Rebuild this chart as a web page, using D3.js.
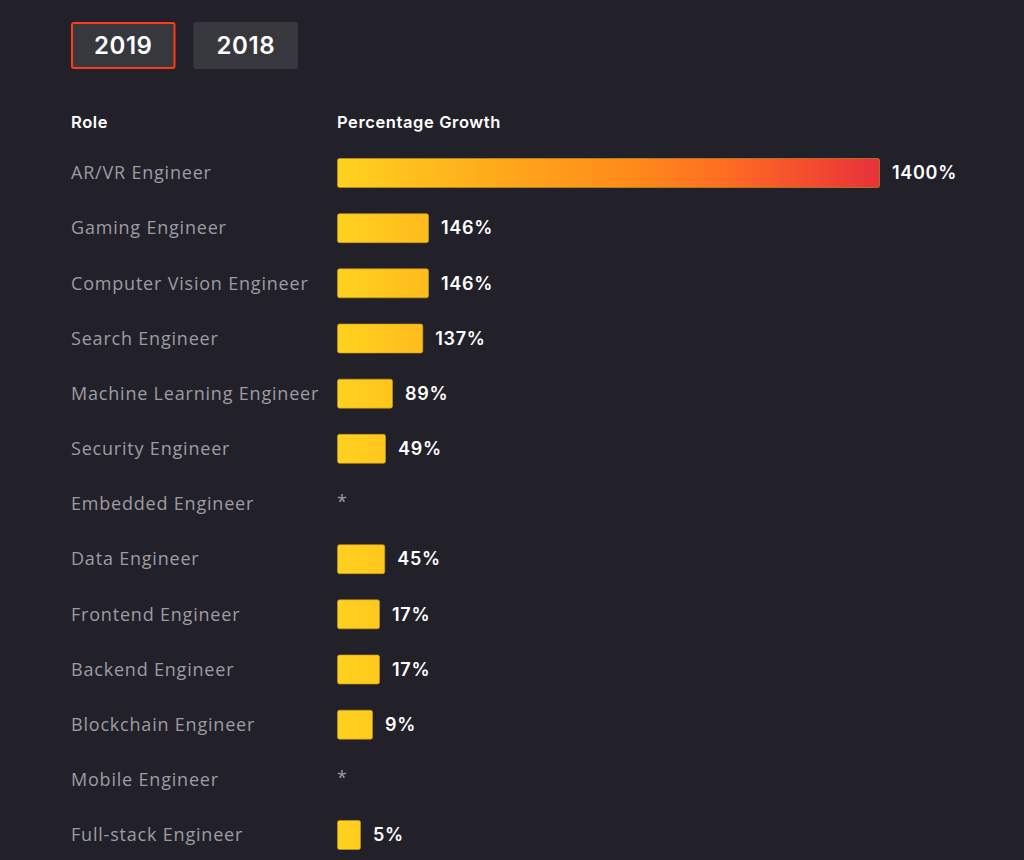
<!DOCTYPE html>
<html>
<head>
<meta charset="utf-8">
<script src="https://cdn.jsdelivr.net/npm/d3@7"></script>
<style>
  html, body { margin: 0; padding: 0; background: #222129; }
  svg { display: block; }
</style>
</head>
<body>
<svg id="chart" width="1024" height="860"></svg>
<script>
// chart data
const years = ["2019", "2018"];
const roles = ["AR/VR Engineer", "Gaming Engineer", "Computer Vision Engineer", "Search Engineer",
  "Machine Learning Engineer", "Security Engineer", "Embedded Engineer", "Data Engineer",
  "Frontend Engineer", "Backend Engineer", "Blockchain Engineer", "Mobile Engineer", "Full-stack Engineer"];
// null = no figure shown (asterisk)
const growth = [1400, 146, 146, 137, 89, 49, null, 45, 17, 17, 9, null, 5];

const svg = d3.select("#chart");
const width = +svg.attr("width");
const height = +svg.attr("height");
const margin = {left: 71, top: 122, barLeft: 337};
const boldFont = "Inter, Lato, sans-serif";
const textFont = "'Open Sans', 'Noto Sans', sans-serif";

svg.append("rect").attr("width", width).attr("height", height).attr("fill", "#222129");

/* Year buttons */
const btnX = d3.scaleBand().domain(years).range([71, 298]).paddingInner(0.147).paddingOuter(0);
const btn = svg.append("g").selectAll("g")
    .data(years)
    .enter().append("g")
    .attr("transform", d => "translate(" + btnX(d) + ",22)");
btn.append("rect")
    .attr("x", (d, i) => i === 0 ? 1 : 0)
    .attr("y", (d, i) => i === 0 ? 1 : 0)
    .attr("width", (d, i) => i === 0 ? btnX.bandwidth() - 2 : btnX.bandwidth())
    .attr("height", (d, i) => i === 0 ? 45 : 47)
    .attr("rx", 2)
    .attr("fill", "#37383d")
    .attr("stroke", (d, i) => i === 0 ? "#ff3a17" : "none")
    .attr("stroke-width", 2);
btn.append("text")
    .attr("x", btnX.bandwidth() / 2)
    .attr("y", 32)
    .attr("text-anchor", "middle")
    .attr("font-family", boldFont)
    .attr("font-weight", 600)
    .attr("font-size", 24)
    .attr("letter-spacing", 0.6)
    .attr("fill", "#ffffff")
    .text(d => d);

/* Column headers */
[["Role", margin.left], ["Percentage Growth", margin.barLeft]].forEach(h => {
  svg.append("text")
      .attr("x", h[1]).attr("y", 128)
      .attr("font-family", boldFont).attr("font-weight", 600)
      .attr("font-size", 16.5).attr("letter-spacing", 0.6)
      .attr("fill", "#ffffff")
      .text(h[0]);
});

/* Scales */
const y = d3.scalePoint().domain(roles).range([173, 835]);
// bar length is not proportional in the original; a polylinear scale mimics it
const x = d3.scaleLinear()
    .domain([0, 5, 9, 17, 49, 89, 146, 1400])
    .range([0, 24, 36, 43, 49, 56, 92, 543]);
const barH = 30;

/* Gradient across the full bar track */
const grad = svg.append("defs").append("linearGradient")
    .attr("id", "barGrad")
    .attr("gradientUnits", "userSpaceOnUse")
    .attr("x1", margin.barLeft).attr("x2", margin.barLeft + x(1400))
    .attr("y1", 0).attr("y2", 0);
[[0, "#ffd21f"], [0.33, "#ffa51a"], [0.55, "#ff8a1a"], [0.72, "#ff6b22"], [1, "#e8313b"]]
  .forEach(s => grad.append("stop").attr("offset", s[0]).attr("stop-color", s[1]));

const rows = roles.map((r, i) => ({role: r, val: growth[i]}));

const row = svg.append("g").selectAll("g")
    .data(rows)
    .enter().append("g")
    .attr("transform", d => "translate(0," + y(d.role) + ")");

row.append("text")
    .attr("x", margin.left).attr("dy", "0.35em")
    .attr("font-family", textFont)
    .attr("font-size", 18)
    .attr("letter-spacing", 0.8)
    .attr("fill", "#9d9ca3")
    .text(d => d.role);

const withBar = row.filter(d => d.val !== null);
withBar.append("rect")
    .attr("x", margin.barLeft + 0.5)
    .attr("y", -barH / 2 + 0.5)
    .attr("width", d => x(d.val) - 1)
    .attr("height", barH - 1)
    .attr("rx", 2)
    .attr("fill", "url(#barGrad)")
    .attr("stroke", "#c99a17")
    .attr("stroke-opacity", 0.6)
    .attr("stroke-width", 1);
withBar.append("text")
    .attr("x", d => margin.barLeft + x(d.val) + 12)
    .attr("dy", "0.35em")
    .attr("font-family", boldFont)
    .attr("font-weight", 600)
    .attr("font-size", 18)
    .attr("letter-spacing", 0.7)
    .attr("fill", "#ffffff")
    .text(d => d.val + "%");

row.filter(d => d.val === null).append("text")
    .attr("x", margin.barLeft)
    .attr("y", 4)
    .attr("font-family", textFont)
    .attr("font-size", 18)
    .attr("fill", "#9d9ca3")
    .text("*");
</script>
</body>
</html>
